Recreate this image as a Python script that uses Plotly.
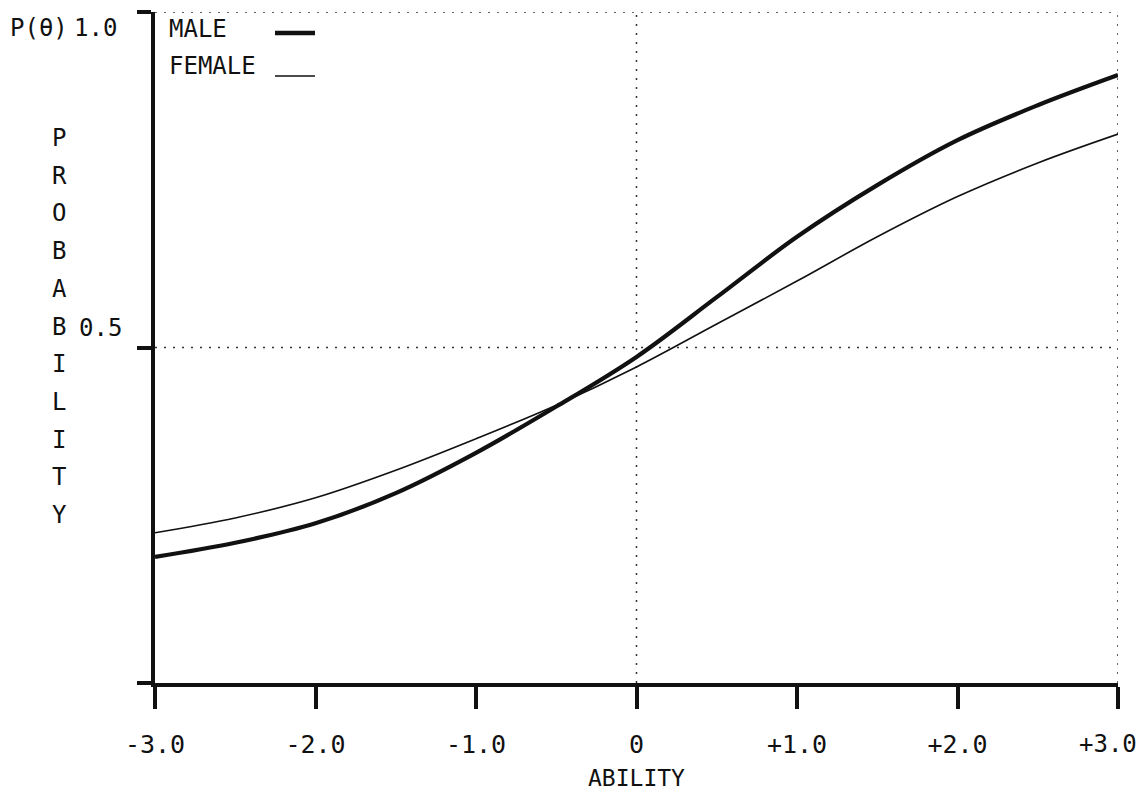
import plotly.graph_objects as go

# ---- data ----
ability = [-3.0, -2.5, -2.0, -1.5, -1.0, -0.5, 0.0, 0.5, 1.0, 1.5, 2.0, 2.5, 3.0]
male = [0.188, 0.209, 0.238, 0.283, 0.343, 0.412, 0.486, 0.575, 0.665, 0.742, 0.809, 0.861, 0.906]
female = [0.224, 0.246, 0.276, 0.317, 0.364, 0.414, 0.471, 0.535, 0.599, 0.665, 0.725, 0.775, 0.818]

x_tickvals = [-3, -2, -1, 0, 1, 2, 3]
x_ticktext = ["-3.0", "-2.0", "-1.0", "0", "+1.0", "+2.0", "+3.0"]
y_tickvals = [0, 0.5, 1.0]
y_ticktext = ["", "0.5", "1.0"]
y_title_letters = list("PROBABILITY")

FONT = "DejaVu Sans Mono"
INK = "#111111"

# plot-area geometry (pixels)
W, H = 1140, 792
L, R, T, B = 155, 22, 12, 109
PW, PH = W - L - R, H - T - B


def px(x):
    return (x - L) / PW


def py(y):
    return (H - B - y) / PH


fig = go.Figure()
fig.add_trace(go.Scatter(x=ability, y=female, mode="lines", name="FEMALE",
                         line=dict(color=INK, width=1.6, shape="spline", smoothing=1.0)))
fig.add_trace(go.Scatter(x=ability, y=male, mode="lines", name="MALE",
                         line=dict(color=INK, width=4.2, shape="spline", smoothing=1.0)))

# dotted reference lines
dot = dict(color="#333333", width=1.5, dash="2px,7px")
shapes = [
    dict(type="line", xref="x", yref="y", x0=0, x1=0, y0=0, y1=1, line=dot, layer="below"),
    dict(type="line", xref="x", yref="y", x0=3, x1=3, y0=0, y1=1, line=dot, layer="below"),
    dict(type="line", xref="x", yref="y", x0=-3, x1=3, y0=0.5, y1=0.5, line=dot, layer="below"),
    dict(type="line", xref="x", yref="y", x0=-3, x1=3, y0=1, y1=1, line=dot, layer="below"),
    # legend samples
    dict(type="line", xref="paper", yref="paper", x0=px(275), x1=px(315), y0=py(33), y1=py(33),
         line=dict(color=INK, width=4.5)),
    dict(type="line", xref="paper", yref="paper", x0=px(275), x1=px(315), y0=py(76), y1=py(76),
         line=dict(color=INK, width=1.6)),
]

ann = []
tf = dict(family=FONT, size=24, color=INK)
ann.append(dict(text="P(θ)", xref="paper", yref="paper", x=px(8), y=py(28),
                xanchor="left", yanchor="middle", showarrow=False, font=tf))
ann.append(dict(text=y_ticktext[2], xref="paper", yref="paper", x=px(119), y=py(28),
                xanchor="right", yanchor="middle", showarrow=False, font=tf))
ann.append(dict(text=y_ticktext[1], xref="paper", yref="paper", x=px(124), y=py(328),
                xanchor="right", yanchor="middle", showarrow=False, font=tf))
ann.append(dict(text="MALE", xref="paper", yref="paper", x=px(167), y=py(29),
                xanchor="left", yanchor="middle", showarrow=False, font=tf))
ann.append(dict(text="FEMALE", xref="paper", yref="paper", x=px(167), y=py(66),
                xanchor="left", yanchor="middle", showarrow=False, font=tf))
for i, ch in enumerate(y_title_letters):
    ann.append(dict(text=ch, xref="paper", yref="paper", x=px(59), y=py(138 + i * 37.7),
                    xanchor="center", yanchor="middle", showarrow=False, font=tf))
ann.append(dict(text="ABILITY", xref="paper", yref="paper", x=px(636), y=py(778),
                xanchor="center", yanchor="middle", showarrow=False,
                font=dict(family=FONT, size=23, color=INK)))
# last x tick label kept inside the page (it sits at the right edge)
ann.append(dict(text=x_ticktext[-1], xref="paper", yref="paper", x=px(1139), y=py(744),
                xanchor="right", yanchor="middle", showarrow=False,
                font=dict(family=FONT, size=24, color=INK)))

fig.update_layout(
    width=W, height=H,
    margin=dict(l=L, r=R, t=T, b=B, pad=0, autoexpand=False),
    paper_bgcolor="white", plot_bgcolor="white",
    showlegend=False,
    shapes=shapes,
    annotations=ann,
    xaxis=dict(range=[-3, 3], tickvals=x_tickvals, ticktext=x_ticktext[:-1] + [""], automargin=False,
               showgrid=False, zeroline=False, showline=True, linecolor=INK, linewidth=4,
               ticks="outside", ticklen=22, tickwidth=4, tickcolor=INK,
               ticklabelstandoff=14, ticklabeloverflow="allow",
               tickfont=dict(family=FONT, size=25, color=INK)),
    yaxis=dict(range=[0, 1], tickvals=y_tickvals, ticktext=["", "", ""], automargin=False,
               showgrid=False, zeroline=False, showline=True, linecolor=INK, linewidth=4,
               ticks="outside", ticklen=14, tickwidth=4, tickcolor=INK),
)

fig.write_html("out.html", config={"displayModeBar": False},
               post_script="document.body.style.margin='0';")
